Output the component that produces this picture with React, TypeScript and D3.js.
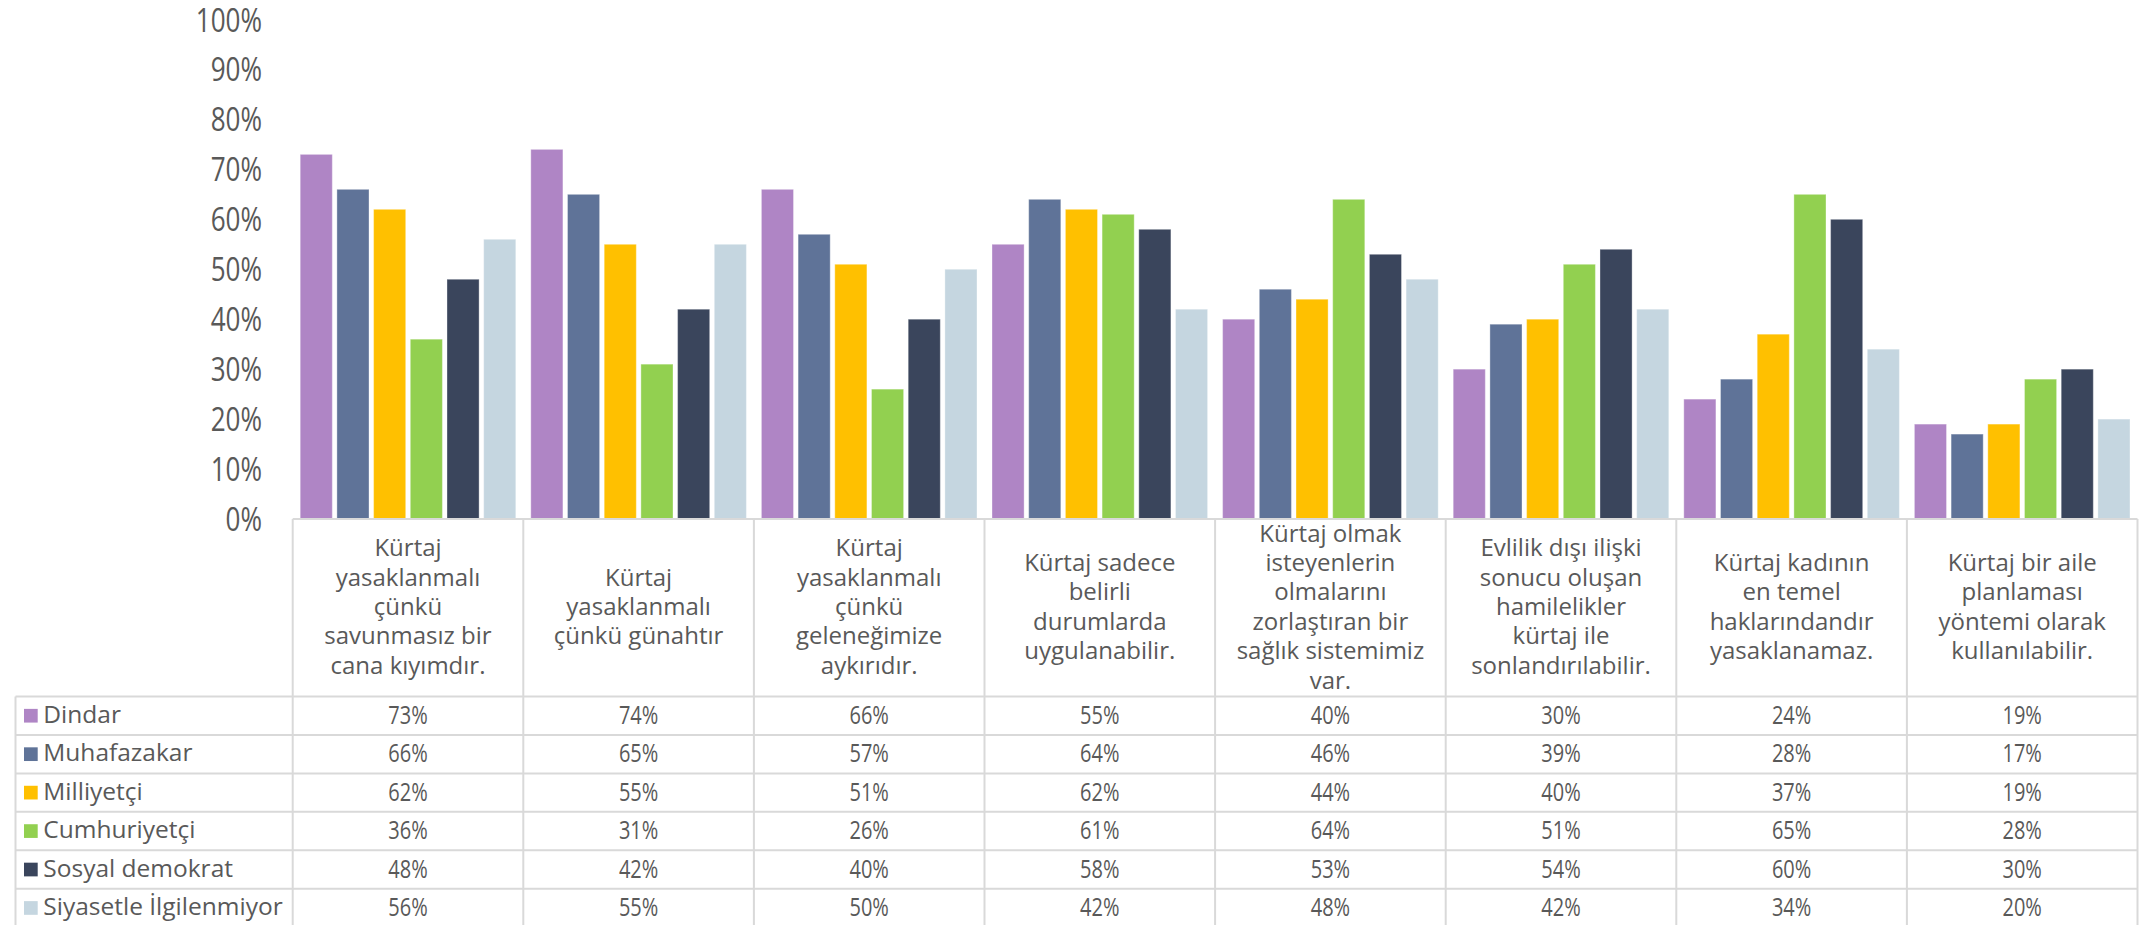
import React from "react";
import * as d3 from "d3";

const categories = [
  "Kürtaj\nyasaklanmalı\nçünkü\nsavunmasız bir\ncana kıyımdır.",
  "Kürtaj\nyasaklanmalı\nçünkü günahtır",
  "Kürtaj\nyasaklanmalı\nçünkü\ngeleneğimize\naykırıdır.",
  "Kürtaj sadece\nbelirli\ndurumlarda\nuygulanabilir.",
  "Kürtaj olmak\nisteyenlerin\nolmalarını\nzorlaştıran bir\nsağlık sistemimiz\nvar.",
  "Evlilik dışı ilişki\nsonucu oluşan\nhamilelikler\nkürtaj ile\nsonlandırılabilir.",
  "Kürtaj kadının\nen temel\nhaklarındandır\nyasaklanamaz.",
  "Kürtaj bir aile\nplanlaması\nyöntemi olarak\nkullanılabilir.",
];

const seriesNames = [
  "Dindar",
  "Muhafazakar",
  "Milliyetçi",
  "Cumhuriyetçi",
  "Sosyal demokrat",
  "Siyasetle İlgilenmiyor",
];

const dindar = [73, 74, 66, 55, 40, 30, 24, 19];
const muhafazakar = [66, 65, 57, 64, 46, 39, 28, 17];
const milliyetci = [62, 55, 51, 62, 44, 40, 37, 19];
const cumhuriyetci = [36, 31, 26, 61, 64, 51, 65, 28];
const sosyalDemokrat = [48, 42, 40, 58, 53, 54, 60, 30];
const siyasetleIlgilenmiyor = [56, 55, 50, 42, 48, 42, 34, 20];

const seriesValues = [dindar, muhafazakar, milliyetci, cumhuriyetci, sosyalDemokrat, siyasetleIlgilenmiyor];

const yTickValues = [0, 10, 20, 30, 40, 50, 60, 70, 80, 90, 100];

const seriesColors = ["#AF85C5", "#5F7398", "#FFC000", "#92D050", "#3A455C", "#C5D6E0"];

const W = 2149;
const H = 925;
const plotLeft = 292.7;
const plotRight = 2137.5;
const baseY = 519;
const topY = 19.5;
const headerBottom = 696.5;
const rowH = 38.45;
const tableLeft = 15.5;
const gridColor = "#D9D9D9";
const textColor = "#595959";
const font = "'Open Sans', sans-serif";

export default function App() {
  const idx = categories.map((_, i) => String(i));
  const x = d3.scaleBand().domain(idx).range([plotLeft, plotRight]).padding(0);
  const bw = x.bandwidth();
  const xs = d3.scaleBand().domain(seriesNames).range([7.5, bw - 7.5]).paddingInner(0.125).paddingOuter(0);
  const y = d3.scaleLinear().domain([0, 100]).range([baseY, topY]);
  const fmt = (v: number) => `${v}%`;
  const headerMid = 615;
  const lineH = 29.4;

  return (
    <svg width={W} height={H} style={{ position: "fixed", left: 0, top: 0, background: "#fff" }}>
      <rect x={0} y={0} width={W} height={H} fill="#fff" />
      {/* bars */}
      {categories.map((c, ci) => (
        <g key={ci} transform={`translate(${x(String(ci))},0)`}>
          {seriesNames.map((s, si) => {
            const v = seriesValues[si][ci];
            return (
              <rect
                key={s}
                x={xs(s)}
                y={y(v)}
                width={xs.bandwidth()}
                height={y(0) - y(v)}
                fill={seriesColors[si]}
                stroke="#ffffff"
                strokeOpacity={0.35}
                strokeWidth={1}
              />
            );
          })}
        </g>
      ))}
      {/* y ticks */}
      {yTickValues.map((t) => (
        <text
          key={t}
          transform={`translate(262,${y(t) + 12}) scale(0.79,1)`}
          textAnchor="end"
          fontFamily={font}
          fontSize={33}
          fill={textColor}
        >
          {fmt(t)}
        </text>
      ))}
      {/* table grid */}
      <line x1={plotLeft} x2={plotRight} y1={baseY} y2={baseY} stroke={gridColor} strokeWidth={2} />
      {d3.range(categories.length + 1).map((i) => {
        const xx = plotLeft + i * bw;
        return <line key={"v" + i} x1={xx} x2={xx} y1={baseY} y2={H} stroke={gridColor} strokeWidth={2} />;
      })}
      {d3.range(seriesNames.length + 1).map((r) => {
        const yy = headerBottom + r * rowH;
        return <line key={"h" + r} x1={tableLeft} x2={plotRight} y1={yy} y2={yy} stroke={gridColor} strokeWidth={2} />;
      })}
      <line x1={tableLeft} x2={tableLeft} y1={headerBottom} y2={H} stroke={gridColor} strokeWidth={2} />
      {/* header labels */}
      {categories.map((c, ci) => {
        const lines = c.split("\n");
        const cx = (x(String(ci)) as number) + bw / 2;
        const start = headerMid - ((lines.length - 1) * lineH) / 2;
        return (
          <text key={"c" + ci} fontFamily={font} fontSize={24} fill={textColor} textAnchor="middle">
            {lines.map((l, li) => (
              <tspan key={li} x={cx} y={start + li * lineH}>
                {l}
              </tspan>
            ))}
          </text>
        );
      })}
      {/* data rows */}
      {seriesNames.map((s, si) => {
        const top = headerBottom + si * rowH;
        return (
          <g key={"r" + si}>
            <rect x={24} y={top + rowH / 2 - 6.85} width={13.7} height={13.7} fill={seriesColors[si]} />
            <text x={43.3} y={top + 26.3} fontFamily={font} fontSize={24.5} fill={textColor}>
              {s}
            </text>
            {seriesValues[si].map((v, ci) => (
              <text
                key={ci}
                transform={`translate(${(x(String(ci)) as number) + bw / 2},${top + 27.5}) scale(0.8,1)`}
                textAnchor="middle"
                fontFamily={font}
                fontSize={25}
                fill={textColor}
              >
                {fmt(v)}
              </text>
            ))}
          </g>
        );
      })}
    </svg>
  );
}
